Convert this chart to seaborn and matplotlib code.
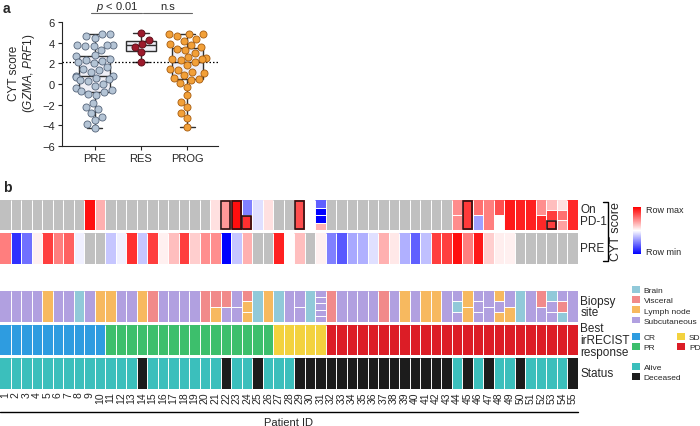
import numpy as np
import pandas as pd
import seaborn as sns
import matplotlib.pyplot as plt
from matplotlib.colors import ListedColormap
from matplotlib.patches import Patch, Rectangle
from matplotlib.lines import Line2D

nan = np.nan

# ---- panel a: CYT score per group ----
groups = ["PRE", "RES", "PROG"]
pre_cyt = [4.8, 4.8, 4.6, 4.5, 3.8, 3.8, 3.8, 3.7, 3.7, 3.3, 2.8, 2.7,
           2.4, 2.3, 2.2, 2.1, 2.0, 1.6, 1.5, 1.4, 1.2, 0.75, 0.8, 0.7,
           0.6, 0.5, 0.4, 0.3, 0.0, -0.2, -0.4, -0.6, -0.7, -0.8, -1.0,
           -1.1, -1.8, -2.2, -2.4, -2.8, -3.2, -3.5, -3.9, -4.3]
res_cyt = [4.9, 4.3, 3.9, 3.6, 3.1, 2.1]
prog_cyt = [4.85, 4.85, 4.8, 4.6, 4.4, 4.2, 3.9, 3.8, 3.6, 3.4, 3.3, 3.0,
            2.6, 2.5, 2.4, 2.4, 2.3, 2.1, 1.8, 1.5, 1.4, 1.2, 1.1, 0.9,
            0.6, 0.5, 0.4, 0.1, -0.3, -1.1, -1.7, -2.2, -2.8, -3.3, -4.2]
cyt_cutoff = 2.1
dot_fill = {"PRE": "#b4c4d5", "RES": "#9c1a2c", "PROG": "#f2a038"}
dot_edge = {"PRE": "#56657a", "RES": "#5a0c16", "PROG": "#a65c10"}

# ---- panel b: per-patient tracks ----
patient_ids = list(range(1, 56))
# row-scaled CYT score (-1 row min .. 1 row max), nan = not available, one entry per biopsy
on_pd1 = [
    [nan], [nan], [nan], [nan], [nan], [nan], [nan], [nan], [0.94], [0.31],
    [nan], [nan], [nan], [nan], [nan], [nan], [nan], [nan], [nan], [nan],
    [0.12], [0.40], [0.94], [-0.50, 0.81], [-0.12], [0.12], [nan], [nan], [0.69], [],
    [-0.62, -1.0, -1.0, 0.31], [nan], [nan], [nan], [nan], [nan], [nan], [nan], [nan], [nan],
    [nan], [nan], [nan], [0.45, 0.45], [0.77], [0.56, -0.37], [0.50], [0.69, 0.0], [0.90], [0.87],
    [0.87], [0.44, 0.84], [0.25, 0.75, 0.75], [0.12, 0.56, 0.37], [0.84],
]
on_pd1_boxed = [(22, 0), (23, 0), (24, 1), (29, 0), (45, 0), (53, 2)]
pre_score = [
    0.50, -0.81, -0.56, 0.06, 0.75, 0.50, 0.62, -0.06, nan, nan,
    -0.22, -0.06, 0.81, -0.22, 0.75, 0.06, 0.25, 0.75, 0.19, 0.44,
    0.44, -1.0, -0.22, 0.31, nan, nan, 0.87, 0.0, 0.25, nan,
    0.06, -0.50, -0.65, -0.34, -0.31, -0.12, 0.31, 0.09, -0.31, -0.62,
    -0.25, 0.75, 0.75, 0.94, 0.50, 0.90, 0.19, 0.07, 0.06, nan,
    nan, nan, nan, nan, nan,
]
# biopsy sites, one letter per biopsy (B brain, V visceral, L lymph node, S subcutaneous)
biopsy = [
    "S", "S", "S", "S", "L", "S", "S", "B", "S", "L",
    "L", "S", "S", "L", "V", "S", "S", "S", "S", "V",
    "VL", "VS", "SS", "VLL", "B", "L", "B", "S", "SS", "B",
    "SSSSS", "V", "S", "S", "S", "S", "V", "S", "L", "S",
    "L", "L", "S", "SBS", "LL", "SSS", "SS", "LSL", "SL", "B",
    "S", "VS", "BSS", "SVB", "S",
]
site_codes = ["B", "V", "L", "S"]
site_names = ["Brain", "Visceral", "Lymph node", "Subcutaneous"]
site_colors = ["#91c9d9", "#f18a8a", "#f7b95f", "#b1a0e0"]
response = [
    "CR", "CR", "CR", "CR", "CR", "CR", "CR", "CR", "CR", "CR",
    "PR", "PR", "PR", "PR", "PR", "PR", "PR", "PR", "PR", "PR",
    "PR", "PR", "PR", "PR", "PR", "PR", "SD", "SD", "SD", "SD",
    "SD", "PD", "PD", "PD", "PD", "PD", "PD", "PD", "PD", "PD",
    "PD", "PD", "PD", "PD", "PD", "PD", "PD", "PD", "PD", "PD",
    "PD", "PD", "PD", "PD", "PD",
]
resp_codes = ["CR", "PR", "SD", "PD"]
resp_colors = ["#2e9ce0", "#3dbf6c", "#f3d23e", "#dc1d26"]
status = [
    "Alive", "Alive", "Alive", "Alive", "Alive", "Alive", "Alive", "Alive", "Alive", "Alive",
    "Alive", "Alive", "Alive", "Deceased", "Alive", "Alive", "Alive", "Alive", "Alive", "Alive",
    "Alive", "Deceased", "Alive", "Alive", "Deceased", "Alive", "Alive", "Alive", "Deceased", "Deceased",
    "Deceased", "Deceased", "Deceased", "Deceased", "Deceased", "Deceased", "Deceased", "Deceased", "Deceased", "Deceased",
    "Deceased", "Deceased", "Deceased", "Alive", "Deceased", "Alive", "Deceased", "Alive", "Alive", "Deceased",
    "Alive", "Alive", "Alive", "Alive", "Deceased",
]
status_codes = ["Alive", "Deceased"]
status_colors = ["#3bbfbc", "#1c1c1c"]

sns.set_style("ticks")
plt.rcParams["font.family"] = ["Liberation Sans", "DejaVu Sans"]
plt.rcParams["mathtext.fontset"] = "custom"
plt.rcParams["mathtext.rm"] = "Liberation Sans"
plt.rcParams["mathtext.it"] = "Liberation Sans:italic"

W, H = 700, 427
fig = plt.figure(figsize=(W / 100, H / 100), dpi=100)


def px(x0, y0, x1, y1):
    return [x0 / W, 1 - y1 / H, (x1 - x0) / W, (y1 - y0) / H]


# ================= panel a =================
df = pd.DataFrame({
    "group": ["PRE"] * len(pre_cyt) + ["RES"] * len(res_cyt) + ["PROG"] * len(prog_cyt),
    "cyt": pre_cyt + res_cyt + prog_cyt,
})
ax_a = fig.add_axes(px(62, 0, 218, 147))
sns.boxplot(data=df, x="group", y="cyt", order=groups, whis=(0, 100), width=0.66,
            color="#efeff6", saturation=1, linecolor="#303030", linewidth=1,
            showfliers=False, ax=ax_a)
ax_a.axhline(cyt_cutoff, ls=(0, (1.2, 1.6)), color="black", lw=0.9, zorder=2.5)
for g in groups:
    sub = df[df["group"] == g]
    sns.swarmplot(data=sub, x="group", y="cyt", order=groups, color=dot_fill[g],
                  edgecolor=dot_edge[g], linewidth=0.6, size=5.1, ax=ax_a, zorder=3)

ax_a.set_xlim(-0.7, 2.66)
ax_a.set_ylim(-6, 8.23)
ax_a.set_yticks(np.arange(-6, 7, 2))
sns.despine(ax=ax_a)
ax_a.spines["left"].set_bounds(-6, 6)
for s in ["left", "bottom"]:
    ax_a.spines[s].set_linewidth(0.8)
ax_a.tick_params(labelsize=8, length=3, width=0.8, pad=2)
ax_a.set_xlabel("")
ax_a.set_ylabel("CYT score\n($\\it{GZMA}$, $\\it{PRF1}$)", fontsize=8.5, labelpad=4,
                linespacing=1.1)

ax_a.plot([-0.07, 1.02], [6.87, 6.87], color="#666666", lw=0.8, clip_on=False)
ax_a.plot([1.05, 2.1], [6.87, 6.87], color="#666666", lw=0.8, clip_on=False)
ax_a.text(0.48, 7.6, "$\\it{p}$ < 0.01", ha="center", va="center", fontsize=8)
ax_a.text(1.57, 7.6, "n.s", ha="center", va="center", fontsize=8)

fig.text(3 / W, 1 - 9 / H, "a", fontsize=10, fontweight="bold", va="center")
fig.text(3 / W, 1 - 188 / H, "b", fontsize=10, fontweight="bold", va="center")

# ================= panel b =================
NSUB = 60  # sub-rows per track so 1..5 biopsies split a cell evenly


def track_matrix(per_patient, to_value):
    mat = np.full((NSUB, len(per_patient)), np.nan)
    for j, samples in enumerate(per_patient):
        k = len(samples)
        for i, s in enumerate(samples):
            mat[i * NSUB // k:(i + 1) * NSUB // k, j] = to_value(s)
    return mat


def draw_track(ax, per_patient, to_value, cmap, vmin, vmax):
    mat = track_matrix(per_patient, to_value)
    sns.heatmap(mat, cmap=cmap, vmin=vmin, vmax=vmax, cbar=False, ax=ax,
                xticklabels=False, yticklabels=False)
    ax.vlines(np.arange(1, len(per_patient)), 0, NSUB, color="white", lw=0.7)
    for j, samples in enumerate(per_patient):
        k = len(samples)
        for i in range(1, k):
            ax.hlines(i * NSUB / k, j, j + 1, color="white", lw=0.7)
    return ax.collections[0]


cyt_cmap = plt.get_cmap("bwr").copy()
cyt_cmap.set_over("#c0c0c0")


def cyt_value(v):
    return 9.0 if np.isnan(v) else v


ax_on = fig.add_axes(px(0, 201, 578, 231))
mesh = draw_track(ax_on, on_pd1, cyt_value, cyt_cmap, -1, 1)
for pid, idx in on_pd1_boxed:
    k = len(on_pd1[pid - 1])
    ax_on.add_patch(Rectangle((pid - 1 + 0.07, idx * NSUB / k + 1.2), 0.86, NSUB / k - 2.4,
                              fill=False, ec="#2b1212", lw=1.2, zorder=4))

ax_pre = fig.add_axes(px(0, 234, 578, 265))
draw_track(ax_pre, [[v] for v in pre_score], cyt_value, cyt_cmap, -1, 1)

ax_site = fig.add_axes(px(0, 292, 578, 323))
draw_track(ax_site, biopsy, site_codes.index, ListedColormap(site_colors), -0.5, 3.5)

ax_resp = fig.add_axes(px(0, 326, 578, 356))
draw_track(ax_resp, [[r] for r in response], resp_codes.index,
           ListedColormap(resp_colors), -0.5, 3.5)

ax_stat = fig.add_axes(px(0, 359, 578, 390))
draw_track(ax_stat, [[s] for s in status], status_codes.index,
           ListedColormap(status_colors), -0.5, 1.5)
ax_stat.set_xticks(np.arange(len(patient_ids)) + 0.5)
ax_stat.set_xticklabels(patient_ids, rotation=90, fontsize=7.5)
ax_stat.tick_params(axis="x", length=0, pad=1.5)

# row labels
row_labels = [(ax_on, "On\nPD-1"), (ax_pre, "PRE"), (ax_site, "Biopsy\nsite"),
              (ax_resp, "Best\nirRECIST\nresponse"), (ax_stat, "Status")]
for ax, lab in row_labels:
    ax.text(1.004, 0.5, lab, transform=ax.transAxes, ha="left", va="center",
            fontsize=8.5, linespacing=0.95)

# bracket for CYT score rows
fig.add_artist(Line2D([603 / W, 608 / W, 608 / W, 603 / W],
                      [1 - 203 / H, 1 - 203 / H, 1 - 262 / H, 1 - 262 / H],
                      color="black", lw=1))
fig.text(616 / W, 1 - 232 / H, "CYT score", rotation=90, ha="center", va="center",
         fontsize=9)

# colour bar
cax = fig.add_axes(px(633, 208, 641, 255))
cb = fig.colorbar(mesh, cax=cax)
cb.outline.set_visible(False)
cax.set_yticks([])
cax.text(1.6, 0.94, "Row max", transform=cax.transAxes, fontsize=6.5, va="center")
cax.text(1.6, 0.06, "Row min", transform=cax.transAxes, fontsize=6.5, va="center")

# Patient ID axis line
fig.add_artist(Line2D([0, 578 / W], [1 - 413 / H, 1 - 413 / H], color="black", lw=1))
fig.text(288 / W, 1 - 423 / H, "Patient ID", ha="center", va="center", fontsize=8)

# legends
leg_kw = dict(loc="upper left", frameon=False, fontsize=6, handlelength=0.9,
              handleheight=0.9, handletextpad=0.5, labelspacing=0.22,
              borderpad=0, borderaxespad=0)
fig.legend(handles=[Patch(fc=c, ec="none", label=n) for n, c in zip(site_names, site_colors)],
           bbox_to_anchor=(632 / W, 1 - 287 / H), **leg_kw)
fig.legend(handles=[Patch(fc=c, ec="none", label=n) for n, c in zip(resp_codes, resp_colors)],
           bbox_to_anchor=(632 / W, 1 - 334 / H), ncol=2, columnspacing=2.6, **leg_kw)
fig.legend(handles=[Patch(fc=c, ec="none", label=n) for n, c in zip(status_codes, status_colors)],
           bbox_to_anchor=(632 / W, 1 - 364 / H), **leg_kw)

fig.savefig("out.png", dpi=100)
